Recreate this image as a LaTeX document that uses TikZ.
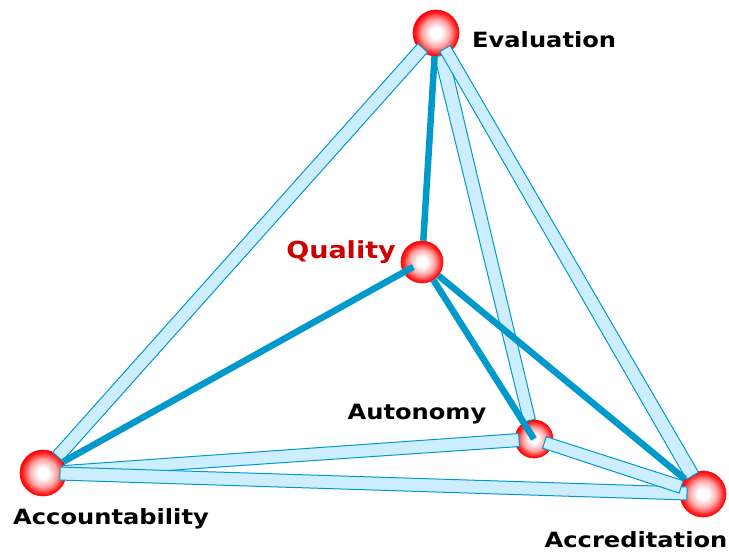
\documentclass[tikz,border=0pt]{standalone}
\usepackage{fontspec}
\setmainfont{DejaVu Sans}[FakeStretch=1.15]
\usetikzlibrary{calc}
\definecolor{tubeline}{HTML}{0099CC}
\definecolor{tubefill}{HTML}{CCEEFF}
\definecolor{qualred}{HTML}{CC0000}
\pgfdeclareradialshading{sphere}{\pgfpoint{0bp}{0bp}}{color(0bp)=(white); color(6bp)=(white); color(15bp)=(red!35); color(22bp)=(red!85); color(25bp)=(red); color(50bp)=(red)}

% tube: from, to, half width at from, half width at to, trim at from, trim at to
\newcommand{\tube}[6]{%
  \path ($(#1)!#5!(#2)$) coordinate (t1) ($(#2)!#6!(#1)$) coordinate (t2);
  \draw[tube] ($(t1)!#3!90:(t2)$) -- ($(t2)!#4!-90:(t1)$) -- ($(t2)!#4!90:(t1)$) -- ($(t1)!#3!-90:(t2)$) -- cycle;}

\begin{document}
\begin{tikzpicture}[
    x=1pt, y=-1pt,
    ball/.style={circle, shade, shading=sphere, draw=red, line width=0.6pt, inner sep=0pt},
    tube/.style={draw=tubeline, fill=tubefill, line width=1pt},
    link/.style={draw=tubeline, line width=6.5pt},
    word/.style={inner sep=0pt, font=\bfseries\fontsize{21}{25}\selectfont}
]
    \useasboundingbox (0,0) rectangle (729,554);

    % balls
    \node[ball, minimum size=46pt] (eval) at (436,33) {};
    \node[ball, minimum size=42pt] (qual) at (422,262) {};
    \node[ball, minimum size=38pt] (auto) at (534,439) {};
    \node[ball, minimum size=46pt] (acct) at (43,473) {};
    \node[ball, minimum size=46pt] (accr) at (703,494) {};

    % outer edges
    \tube{eval}{acct}{6.5pt}{6.5pt}{20pt}{22pt}
    \tube{eval}{auto}{7pt}{6pt}{23pt}{19pt}
    \tube{eval}{accr}{6pt}{7pt}{18pt}{21pt}
    \tube{acct}{auto}{6pt}{6.5pt}{20pt}{15pt}
    \tube{acct}{accr}{6.5pt}{6.5pt}{17pt}{16pt}
    \tube{auto}{accr}{6pt}{6.5pt}{11pt}{23pt}

    % links from the centre
    \draw[link] (qual) -- (eval);
    \draw[link, shorten <=10pt] (qual.center) -- (acct);
    \draw[link] (qual) -- (auto.center);
    \draw[link] (qual) -- (accr);

    % labels
    \node[word, anchor=west] (evaltxt) at (472,40) {Evaluation};
    \node[word, anchor=east, text=qualred, font=\bfseries\fontsize{23.5}{28}\selectfont] (qualtxt) at (396,252) {Quality};
    \node[word] (autotxt) at (417,414) {Autonomy};
    \node[word] (accttxt) at (111,519) {Accountability};
    \node[word] (accrtxt) at (636,540) {Accreditation};
\end{tikzpicture}
\end{document}
